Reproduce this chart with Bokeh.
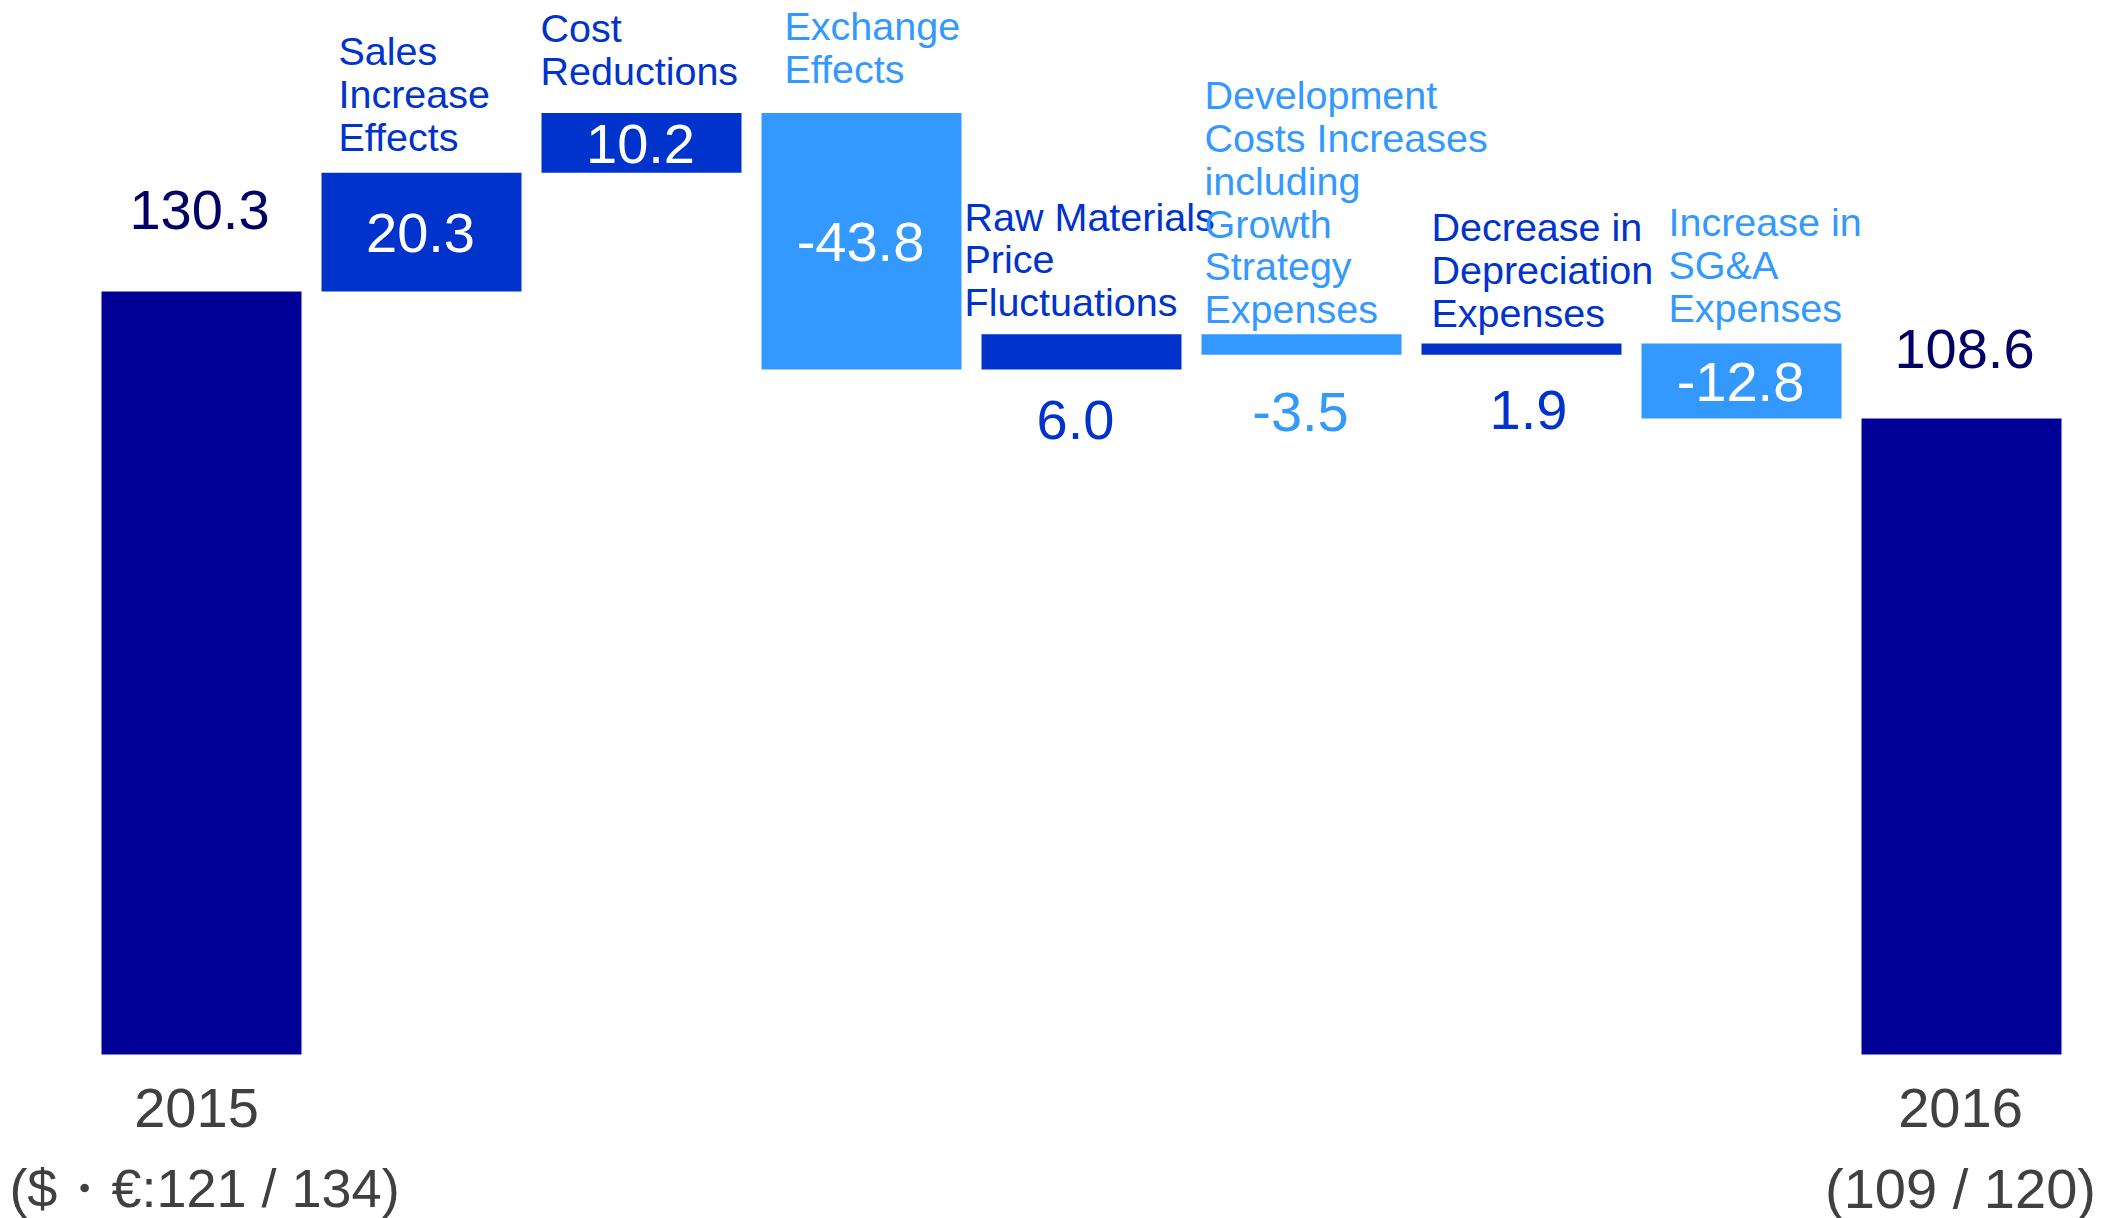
from bokeh.plotting import figure
from bokeh.models import ColumnDataSource, Range1d
from bokeh.embed import file_html
from bokeh.resources import INLINE
from bokeh.core.properties import value

# ---------------- data ----------------
categories = [
    "2015",
    "Sales\nIncrease\nEffects",
    "Cost\nReductions",
    "Exchange\nEffects",
    "Raw Materials\nPrice\nFluctuations",
    "Development\nCosts Increases\nincluding\nGrowth\nStrategy\nExpenses",
    "Decrease in\nDepreciation\nExpenses",
    "Increase in\nSG&A\nExpenses",
    "2016",
]
start_value = 130.3
deltas = [20.3, 10.2, -43.8, 6.0, -3.5, 1.9, -12.8]
end_value = 108.6
value_labels = ["130.3", "20.3", "10.2", "-43.8", "6.0", "-3.5", "1.9", "-12.8", "108.6"]
year_labels = ["2015", "2016"]
rate_labels = ["($・€:121 / 134)", "(109 / 120)"]

# ---------------- layout / style ----------------
W, H = 2116, 1218
PX_PER_UNIT = 763 / 130.3
ZERO_Y = 1054          # canvas px of value 0
FIRST_X = 201          # canvas px of first bar centre
PITCH = 220
FONT = value("Liberation Sans")
C_TOTAL = "#000099"
C_POS = "#0033CC"
C_NEG = "#3399FF"
C_TOTAL_TXT = "#000066"
C_GRAY = "#404040"
LINE_SP = 42.8
CAT_HALF_CAP = 14

# per-category label offsets (px): left offset from bar centre, gap above bar top
cat_dx = [0, -83, -101, -77, -117, -97, -90, -73, 0]
cat_gap = [0, 22, 28, 30, 18, 11, 17, 22, 0]
# value label placement (offsets of the digit centre from the anchor)
val_pos = ["above", "inside", "inside", "inside", "below", "below", "below", "inside", "above"]
val_off = [-81.5, 1, 1, 1, 50.5, 57, 55, 1, -69.5]
val_dx = [-2, -1, -1, -1, -6, -1, 7, -1, 3]
year_dx = [-5, -1]
rate_dx = [3, -1]
bottom_off = [53.5, 133.5]

# ---------------- waterfall geometry from data ----------------
n = len(categories)
xs = list(range(n))
bottoms = [0.0]
tops = [start_value]
colors = [C_TOTAL]
level = start_value
for d in deltas:
    new = level + d
    bottoms.append(min(level, new))
    tops.append(max(level, new))
    colors.append(C_POS if d >= 0 else C_NEG)
    level = new
bottoms.append(0.0)
tops.append(end_value)
colors.append(C_TOTAL)

p = figure(
    width=W, height=H,
    x_range=Range1d(-FIRST_X / PITCH, (W - FIRST_X) / PITCH),
    y_range=Range1d(-(H - ZERO_Y) / PX_PER_UNIT, ZERO_Y / PX_PER_UNIT),
    output_backend="svg", toolbar_location=None,
    x_axis_location=None, y_axis_location=None,
    min_border=0, min_border_left=0, min_border_right=0,
    min_border_top=0, min_border_bottom=0,
)
p.grid.visible = False
p.outline_line_color = None
p.background_fill_color = "white"
p.border_fill_color = "white"

bars = ColumnDataSource(dict(x=xs, bottom=bottoms, top=tops, color=colors))
p.vbar(x="x", width=200 / PITCH, bottom="bottom", top="top",
       fill_color="color", line_color=None, source=bars)

# category labels (one glyph row per line)
lx, ly, lxo, lyo, lt, lc = [], [], [], [], [], []
for i in range(1, n - 1):
    lines = categories[i].split("\n")
    m = len(lines)
    for j, line in enumerate(lines):
        lx.append(xs[i])
        ly.append(tops[i])
        lxo.append(cat_dx[i])
        lyo.append(-(cat_gap[i] + CAT_HALF_CAP + (m - 1 - j) * LINE_SP))
        lt.append(line)
        lc.append(colors[i])
p.text(x="x", y="y", text="text", x_offset="xo", y_offset="yo",
       text_color="color", text_font=FONT, text_font_size="39.5px",
       text_align="left", text_baseline="alphabetic",
       source=ColumnDataSource(dict(x=lx, y=ly, xo=lxo, yo=lyo, text=lt, color=lc)))

# value labels
vx, vy, vxo, vyo, vt, vc = [], [], [], [], [], []
for i in range(n):
    if val_pos[i] == "above":
        y = tops[i]
        c = C_TOTAL_TXT
    elif val_pos[i] == "below":
        y = bottoms[i]
        c = colors[i]
    else:
        y = (tops[i] + bottoms[i]) / 2
        c = "white"
    vx.append(xs[i]); vy.append(y); vxo.append(val_dx[i]); vyo.append(val_off[i])
    vt.append(value_labels[i]); vc.append(c)
p.text(x="x", y="y", text="text", x_offset="xo", y_offset="yo",
       text_color="color", text_font=FONT, text_font_size="56px",
       text_align="center", text_baseline="alphabetic",
       source=ColumnDataSource(dict(x=vx, y=vy, xo=vxo, yo=vyo, text=vt, color=vc)))

# bottom category labels for the totals
bx, by, bxo, byo, bt, bs = [], [], [], [], [], []
for k, idx in enumerate([0, n - 1]):
    bx += [xs[idx], xs[idx]]
    by += [0.0, 0.0]
    bxo += [year_dx[k], rate_dx[k]]
    byo += bottom_off
    bt += [year_labels[k], rate_labels[k]]
    bs += ["56px", "54px" if k == 0 else "56px"]
p.text(x="x", y="y", text="text", x_offset="xo", y_offset="yo",
       text_color=C_GRAY, text_font=FONT, text_font_size="fs",
       text_align="center", text_baseline="alphabetic",
       source=ColumnDataSource(dict(x=bx, y=by, xo=bxo, yo=byo, text=bt, fs=bs)))

open("out.html", "w").write(file_html(p, INLINE))
